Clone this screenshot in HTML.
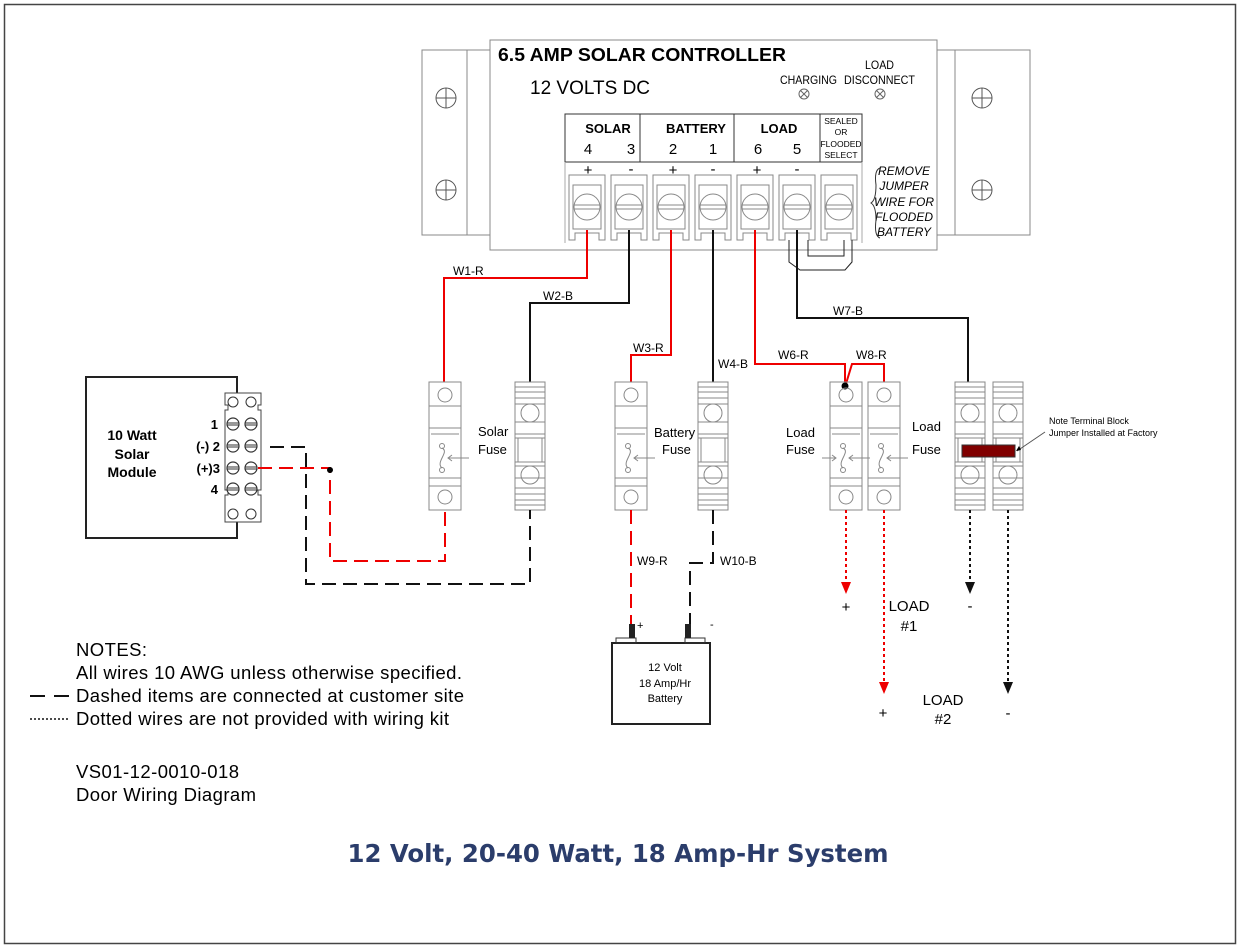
<!DOCTYPE html>
<html><head><meta charset="utf-8"><style>
html,body{margin:0;padding:0;background:#fff;}
svg{display:block;font-family:"Liberation Sans",Arial,sans-serif;}
</style></head><body>
<svg width="1240" height="948" viewBox="0 0 1240 948" xmlns="http://www.w3.org/2000/svg">
<defs>
<g id="xc"><circle r="10" fill="none" stroke="#555" stroke-width="1"/><line x1="-10" y1="0" x2="10" y2="0" stroke="#555"/><line x1="0" y1="-10" x2="0" y2="10" stroke="#555"/></g>
<g id="ind"><circle r="5" fill="none" stroke="#666"/><line x1="-3.5" y1="-3.5" x2="3.5" y2="3.5" stroke="#666"/><line x1="-3.5" y1="3.5" x2="3.5" y2="-3.5" stroke="#666"/></g>
<g id="term" fill="none" stroke="#888" stroke-width="1">
<path d="M-18,0 V65 H-12 V58 H12 V65 H18 V0 Z"/>
<path d="M-14,10 H14 V54 H-14 Z"/>
<circle cx="0" cy="32" r="13"/>
<line x1="-13" y1="30" x2="13" y2="30"/><line x1="-13" y1="34" x2="13" y2="34"/>
</g>
<g id="fuse" fill="none" stroke="#888" stroke-width="1">
<rect x="-16" y="0" width="32" height="128"/>
<line x1="-16" y1="24" x2="16" y2="24"/><line x1="-16" y1="46" x2="16" y2="46"/>
<line x1="-14" y1="52" x2="14" y2="52"/>
<line x1="-16" y1="96" x2="16" y2="96"/><line x1="-16" y1="104" x2="16" y2="104"/>
<circle cx="0" cy="13" r="7"/><circle cx="0" cy="115" r="7"/>
<circle cx="-3" cy="64" r="2.5"/><circle cx="-3" cy="88" r="2.5"/>
<path d="M-3,66 C5,70 -10,80 -3,86"/>
<line x1="3" y1="76" x2="24" y2="76"/><path d="M7,73 L3,76 L7,79"/>
</g>
<g id="blk" fill="none" stroke="#888" stroke-width="1">
<rect x="-15" y="0" width="30" height="128"/>
<line x1="-15" y1="5" x2="15" y2="5"/><line x1="-15" y1="10" x2="15" y2="10"/><line x1="-15" y1="16" x2="15" y2="16"/><line x1="-15" y1="22" x2="15" y2="22"/>
<line x1="-15" y1="40" x2="15" y2="40"/><line x1="-15" y1="52" x2="15" y2="52"/><line x1="-15" y1="56" x2="15" y2="56"/>
<line x1="-15" y1="80" x2="15" y2="80"/><line x1="-15" y1="84" x2="15" y2="84"/><line x1="-15" y1="96" x2="15" y2="96"/>
<line x1="-15" y1="106" x2="15" y2="106"/><line x1="-15" y1="112" x2="15" y2="112"/><line x1="-15" y1="118" x2="15" y2="118"/><line x1="-15" y1="123" x2="15" y2="123"/>
<line x1="-12" y1="56" x2="-12" y2="80"/><line x1="12" y1="56" x2="12" y2="80"/>
<circle cx="0" cy="31" r="9"/><circle cx="0" cy="93" r="9"/>
</g>
<g id="scr"><circle r="6" fill="#fff" stroke="#333" stroke-width="1.2"/><line x1="-6" y1="-1" x2="6" y2="-1" stroke="#333"/><line x1="-6" y1="1" x2="6" y2="1" stroke="#333"/></g>
</defs>
<rect x="4.5" y="4.5" width="1231" height="939" fill="none" stroke="#444" stroke-width="1.5"/>

<!-- controller -->
<rect x="422" y="50" width="68" height="185" fill="none" stroke="#888"/>
<line x1="467" y1="50" x2="467" y2="235" stroke="#888"/>
<rect x="937" y="50" width="93" height="185" fill="none" stroke="#888"/>
<line x1="955" y1="50" x2="955" y2="235" stroke="#888"/>
<use href="#xc" x="446" y="98"/><use href="#xc" x="446" y="190"/>
<use href="#xc" x="982" y="98"/><use href="#xc" x="982" y="190"/>
<rect x="490" y="40" width="447" height="210" fill="#fff" stroke="#888"/>
<text x="498" y="61" font-size="18" font-weight="bold" textLength="288" lengthAdjust="spacingAndGlyphs">6.5 AMP SOLAR CONTROLLER</text>
<text x="530" y="94" font-size="19">12 VOLTS DC</text>
<text x="780" y="84" font-size="12" textLength="57" lengthAdjust="spacingAndGlyphs">CHARGING</text>
<text x="865" y="69" font-size="12" textLength="29" lengthAdjust="spacingAndGlyphs">LOAD</text>
<text x="844" y="84" font-size="12" textLength="71" lengthAdjust="spacingAndGlyphs">DISCONNECT</text>
<use href="#ind" x="804" y="94"/><use href="#ind" x="880" y="94"/>
<rect x="565" y="114" width="297" height="48" fill="none" stroke="#333"/>
<line x1="640" y1="114" x2="640" y2="162" stroke="#333"/>
<line x1="734" y1="114" x2="734" y2="162" stroke="#333"/>
<line x1="820" y1="114" x2="820" y2="162" stroke="#333"/>
<g font-size="13" font-weight="bold" text-anchor="middle">
<text x="608" y="133">SOLAR</text><text x="696" y="133">BATTERY</text><text x="779" y="133">LOAD</text></g>
<g font-size="15" text-anchor="middle">
<text x="588" y="154">4</text><text x="631" y="154">3</text><text x="673" y="154">2</text><text x="713" y="154">1</text><text x="758" y="154">6</text><text x="797" y="154">5</text></g>
<g font-size="8.5" text-anchor="middle">
<text x="841" y="124">SEALED</text><text x="841" y="135">OR</text><text x="841" y="147">FLOODED</text><text x="841" y="158">SELECT</text></g>
<g font-size="15" text-anchor="middle">
<text x="588" y="175">+</text><text x="631" y="174">-</text><text x="673" y="175">+</text><text x="713" y="174">-</text><text x="757" y="175">+</text><text x="797" y="174">-</text></g>
<path d="M565,162 V243 M862,162 V243" stroke="#aaa" fill="none"/>
<use href="#term" x="587" y="175"/><use href="#term" x="629" y="175"/><use href="#term" x="671" y="175"/>
<use href="#term" x="713" y="175"/><use href="#term" x="755" y="175"/><use href="#term" x="797" y="175"/><use href="#term" x="839" y="175"/>
<g font-size="12" font-style="italic" text-anchor="middle">
<text x="904" y="175">REMOVE</text><text x="904" y="190">JUMPER</text><text x="904" y="206">WIRE FOR</text><text x="904" y="221">FLOODED</text><text x="904" y="236">BATTERY</text></g>
<path d="M880,168 Q874,170 876,185 Q876,200 871,203 Q876,206 876,220 Q874,236 880,238" fill="none" stroke="#333"/>

<!-- jumper -->
<path d="M789,240 V262 L800,270 H845 L852,262 V240" fill="none" stroke="#222"/>
<path d="M808,240 V256 H844 V240" fill="none" stroke="#222"/>

<!-- wires -->
<g fill="none" stroke-width="2">
<path d="M587,230 V278 H444 V382" stroke="#e00"/>
<path d="M629,230 V303 H530 V382" stroke="#111"/>
<path d="M671,230 V355 H631 V382" stroke="#e00"/>
<path d="M713,230 V382" stroke="#111"/>
<path d="M755,230 V364 H845 V382" stroke="#e00"/>
<path d="M845,387 L852,364 H884 V382" stroke="#e00"/>
<path d="M797,230 V318 H968 V382" stroke="#111"/>
</g>
<circle cx="845" cy="386" r="3.5" fill="#000"/>
<g font-size="12">
<text x="453" y="275">W1-R</text><text x="543" y="300">W2-B</text><text x="633" y="352">W3-R</text>
<text x="718" y="368">W4-B</text><text x="778" y="359">W6-R</text><text x="856" y="359">W8-R</text><text x="833" y="315">W7-B</text></g>

<!-- fuses -->
<use href="#fuse" x="445" y="382"/><use href="#blk" x="530" y="382"/>
<use href="#fuse" x="631" y="382"/><use href="#blk" x="713" y="382"/>
<use href="#fuse" x="846" y="382"/><use href="#fuse" x="884" y="382"/>
<use href="#blk" x="970" y="382"/><use href="#blk" x="1008" y="382"/>
<g font-size="13">
<text x="478" y="436">Solar</text><text x="478" y="454">Fuse</text>
<text x="654" y="437">Battery</text><text x="662" y="454">Fuse</text>
<text x="786" y="437">Load</text><text x="786" y="454">Fuse</text>
<text x="912" y="431">Load</text><text x="912" y="454">Fuse</text></g>
<path d="M822,458 H836 M832,455 L836,458 L832,461" stroke="#888" fill="none"/>
<rect x="962" y="445" width="53" height="12" fill="#800000" stroke="#333"/>
<line x1="1017" y1="451" x2="1045" y2="432" stroke="#555"/>
<path d="M1016,451 l5,-1 l-2,-4z" fill="#000"/>
<text x="1049" y="424" font-size="9">Note Terminal Block</text>
<text x="1049" y="436" font-size="9">Jumper Installed at Factory</text>

<!-- solar module -->
<rect x="86" y="377" width="151" height="161" fill="#fff" stroke="#222" stroke-width="2"/>
<g font-size="14" font-weight="bold" text-anchor="middle">
<text x="132" y="440">10 Watt</text><text x="132" y="459">Solar</text><text x="132" y="477">Module</text></g>
<path d="M225,393 H261 V405 H258 V410 H261 V490 H258 V495 H261 V522 H225 V495 H228 V490 H225 V410 H228 V405 H225 Z" fill="#fff" stroke="#444"/>
<circle cx="233" cy="402" r="5" fill="none" stroke="#333"/><circle cx="251" cy="402" r="5" fill="none" stroke="#333"/>
<circle cx="233" cy="514" r="5" fill="none" stroke="#333"/><circle cx="251" cy="514" r="5" fill="none" stroke="#333"/>
<use href="#scr" x="233" y="424"/><use href="#scr" x="251" y="424"/>
<use href="#scr" x="233" y="446"/><use href="#scr" x="251" y="446"/>
<use href="#scr" x="233" y="468"/><use href="#scr" x="251" y="468"/>
<use href="#scr" x="233" y="489"/><use href="#scr" x="251" y="489"/>
<g font-size="13" font-weight="bold" text-anchor="end">
<text x="218" y="429">1</text><text x="220" y="451">(-) 2</text><text x="220" y="473">(+)3</text><text x="218" y="494">4</text></g>

<!-- dashed module wires -->
<g fill="none" stroke-width="2" stroke-dasharray="14,7">
<path d="M270,447 H306 V584 H530 V510" stroke="#111"/>
<path d="M258,468 H330 V561 H445 V510" stroke="#e00"/>
<path d="M631,510 V625" stroke="#e00"/>
<path d="M713,510 V563 H690 V625" stroke="#111"/>
</g>
<circle cx="330" cy="470" r="3" fill="#000"/>
<text x="637" y="565" font-size="12">W9-R</text><text x="720" y="565" font-size="12">W10-B</text>

<!-- battery -->
<rect x="612" y="643" width="98" height="81" fill="#fff" stroke="#222" stroke-width="2"/>
<rect x="616" y="638" width="20" height="5" fill="none" stroke="#333"/><rect x="685" y="638" width="20" height="5" fill="none" stroke="#333"/>
<rect x="629" y="624" width="6" height="14" fill="#222"/><rect x="685" y="624" width="6" height="14" fill="#222"/>
<text x="637" y="629" font-size="11">+</text><text x="710" y="628" font-size="11">-</text>
<g font-size="11" text-anchor="middle"><text x="665" y="671">12 Volt</text><text x="665" y="687">18 Amp/Hr</text><text x="665" y="702">Battery</text></g>

<!-- dotted load wires -->
<g fill="none" stroke-width="2" stroke-dasharray="3,3">
<path d="M846,510 V582" stroke="#e00"/><path d="M884,510 V682" stroke="#e00"/>
<path d="M970,510 V582" stroke="#111"/><path d="M1008,510 V682" stroke="#111"/>
</g>
<path d="M841,582 h10 l-5,12z M879,682 h10 l-5,12z" fill="#e00"/>
<path d="M965,582 h10 l-5,12z M1003,682 h10 l-5,12z" fill="#111"/>
<g font-size="15" text-anchor="middle">
<text x="846" y="612">+</text><text x="909" y="611">LOAD</text><text x="909" y="631">#1</text><text x="970" y="611">-</text>
<text x="883" y="718">+</text><text x="943" y="705">LOAD</text><text x="943" y="724">#2</text><text x="1008" y="718">-</text></g>

<!-- notes -->
<g font-size="18.5" lengthAdjust="spacingAndGlyphs">
<text x="76" y="656" textLength="71">NOTES:</text>
<text x="76" y="679" textLength="386">All wires 10 AWG unless otherwise specified.</text>
<text x="76" y="702" textLength="388">Dashed items are connected at customer site</text>
<text x="76" y="725" textLength="373">Dotted wires are not provided with wiring kit</text>
<text x="76" y="778" textLength="163">VS01-12-0010-018</text>
<text x="76" y="801" textLength="180">Door Wiring Diagram</text></g>
<path d="M30,696 H45 M54,696 H69" stroke="#111" stroke-width="2"/>
<path d="M30,719 H70" stroke="#111" stroke-width="1.5" stroke-dasharray="2,2"/>
<text x="618" y="862" font-family="DejaVu Sans,sans-serif" font-size="25" font-weight="bold" fill="#2b3d6b" text-anchor="middle" textLength="541" lengthAdjust="spacingAndGlyphs">12 Volt, 20-40 Watt, 18 Amp-Hr System</text>
</svg>
</body></html>
